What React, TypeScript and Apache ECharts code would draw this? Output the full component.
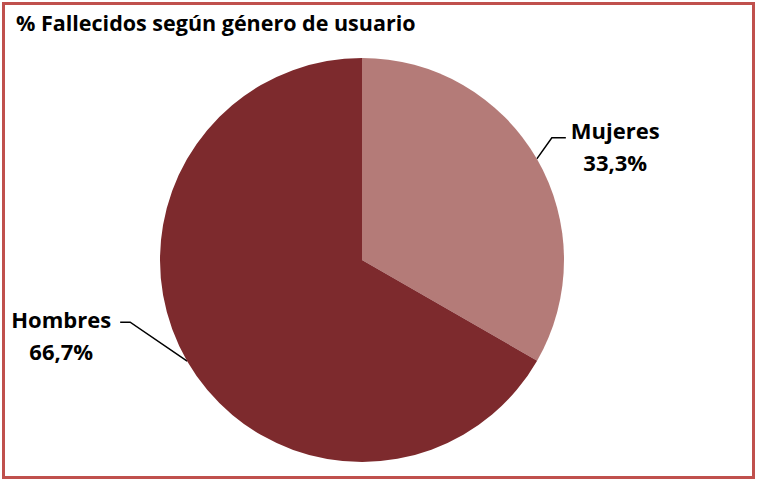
import React, { useEffect, useRef } from "react";
import * as echarts from "echarts";

const titleText = "% Fallecidos según género de usuario";
const categories = ["Mujeres", "Hombres"];
const values = [33.3, 66.7];
const colors = ["#B47B78", "#7D2A2D"];

const FONT = "Open Sans";

export default function App() {
  const ref = useRef<HTMLDivElement>(null);
  useEffect(() => {
    const chart = echarts.init(ref.current!, null, { renderer: "svg" });
    chart.setOption({
      animation: false,
      backgroundColor: "#ffffff",
      title: {
        text: titleText,
        left: 11,
        top: 6,
        textStyle: { fontFamily: FONT, fontWeight: "bold", fontSize: 21.5, color: "#000000" },
      },
      graphic: [
        {
          type: "rect",
          shape: { x: 3.5, y: 3.5, width: 750, height: 474 },
          style: { fill: "none", stroke: "#C0504D", lineWidth: 3 },
          silent: true,
        },
      ],
      series: [
        {
          type: "pie",
          center: [362, 260],
          radius: 202,
          startAngle: 90,
          clockwise: true,
          data: categories.map((c, i) => ({
            name: c,
            value: values[i],
            itemStyle: { color: colors[i] },
          })),
          label: {
            show: true,
            position: "outside",
            formatter: (p: any) =>
              `{n|${p.name}}\n{n|${p.value.toFixed(1).replace(".", ",")}%}`,
            rich: {
              n: {
                fontFamily: FONT,
                fontWeight: "bold",
                fontSize: 22,
                color: "#000000",
                align: "center",
                lineHeight: 32,
              },
            },
          },
          labelLine: {
            show: true,
            length: 20,
            length2: 14,
            smooth: false,
            lineStyle: { color: "#000000", width: 1.5 },
          },
          labelLayout: (p: any) => {
            const e = p.labelLinePoints[0];
            if (p.dataIndex === 0) {
              const bend = [e[0] + 15, e[1] - 21];
              const end = [bend[0] + 14, bend[1]];
              return {
                x: end[0] + 5,
                y: end[1] + 8,
                align: "left",
                verticalAlign: "middle",
                labelLinePoints: [e, bend, end],
              };
            }
            const bend = [e[0] - 57, e[1] - 39];
            const end = [bend[0] - 10, bend[1]];
            return {
              x: end[0] - 9,
              y: end[1] + 13,
              align: "right",
              verticalAlign: "middle",
              labelLinePoints: [e, bend, end],
            };
          },
        },
      ],
    });
    return () => chart.dispose();
  }, []);
  return (
    <div
      ref={ref}
      style={{ position: "fixed", left: 0, top: 0, width: 757, height: 481 }}
    />
  );
}
